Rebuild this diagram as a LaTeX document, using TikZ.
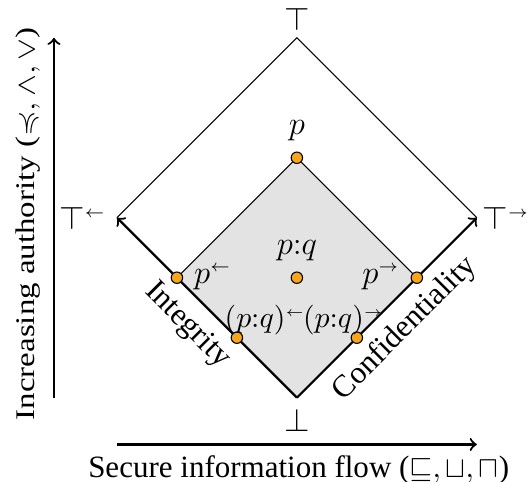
\documentclass[tikz,border=0pt]{standalone}
\usepackage{amsmath,amssymb}
\usepackage{fontspec}
\setmainfont{Liberation Serif}
\usepackage{tikz}
\usetikzlibrary{calc}
\definecolor{dotorange}{RGB}{247,166,28}
\newcommand{\lf}{^{\scriptscriptstyle\leftarrow}}
\newcommand{\rt}{^{\scriptscriptstyle\rightarrow}}

\begin{document}
\fontsize{11.5}{14}\selectfont
\begin{tikzpicture}[x=0.775cm,y=0.775cm,
  lat/.style={circle,draw=black,fill=dotorange,line width=0.4pt,inner sep=0pt,minimum size=4.2pt},
  pqlab/.style={inner sep=0.5pt,yshift=-2.1pt,font=\fontsize{11}{13}\selectfont}]
\pgfmathsetmacro{\r}{3}
\pgfmathsetmacro{\s}{2}
\pgfmathsetmacro{\ax}{-4.05}
\pgfmathsetmacro{\ay}{-3.78}
\useasboundingbox (-4.95,-4.4) rectangle (3.92,3.63);
\coordinate (bot) at (0,-\r);
\coordinate (top) at (0,\r);
\coordinate (lft) at (-\r,0);
\coordinate (rgt) at (\r,0);
\fill[black!11] (bot) -- (-\s,-1) -- (0,1) -- (\s,-1) -- cycle;
\draw (lft) -- (top) -- (rgt);
\draw (-\s,-1) -- (0,1) -- (\s,-1);
\draw[thick,->] (bot) -- (lft);
\draw[thick,->] (bot) -- (rgt);
\node (topl) [above,inner sep=2.5pt] at (top) {$\top$};
\node (botl) [below] at (bot) {$\bot$};
\node (lftl) [left] at (lft) {$\top\lf$};
\node (rgtl) [right,inner sep=2pt] at (rgt) {$\top\rt$};
\node (integ) [rotate=-45] at (-1.83,-1.8) {Integrity};
\node (conf) [rotate=45] at (1.8,-1.85) {Confidentiality};
\node[lat,label=above:$p$] (p) at (0,1) {};
\node[lat,label=right:$p\lf$] (pl) at (-\s,-1) {};
\node[lat,label=left:$p\rt$] (pr) at (\s,-1) {};
\node[lat,label=above:$p{:}q$] (pq) at (0,-1) {};
\node[lat,label={[pqlab,anchor=south west,xshift=-5.2pt]above:$(p{:}q)\lf$}] (pql) at (-1,-2) {};
\node[lat,label={[pqlab,anchor=south east,xshift=10.6pt]above:$(p{:}q)\rt$}] (pqr) at (1,-2) {};
% axes
\coordinate (vb) at (\ax,-\r);
\coordinate (vt) at (\ax,\r);
\coordinate (hb) at (-\r,\ay);
\coordinate (ht) at (\r,\ay);
\draw[thick,->] (vb) -- (vt);
\draw[thick,->] (hb) -- (ht);
\node (vlab) [rotate=90,xscale=1.1,yscale=0.9,font=\fontsize{11}{13}\selectfont] at (-4.48,-0.1) {Increasing authority ($\preccurlyeq,\wedge,\vee$)};
\node (hlab) [below,font=\fontsize{11.4}{14}\selectfont] at ($(hb)!0.5!(ht)+(0.03,0)$) {Secure information flow ($\sqsubseteq,\sqcup,\sqcap$)};
\end{tikzpicture}
\end{document}
